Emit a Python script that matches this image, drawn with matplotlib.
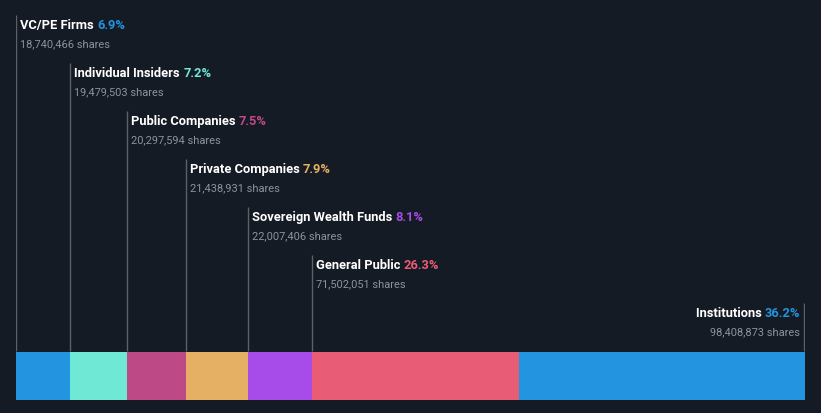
import numpy as np
import matplotlib.pyplot as plt

# ownership data
groups = ["VC/PE Firms", "Individual Insiders", "Public Companies", "Private Companies",
          "Sovereign Wealth Funds", "General Public", "Institutions"]
pcts = ["6.9%", "7.2%", "7.5%", "7.9%", "8.1%", "26.3%", "36.2%"]
shares = [18740466, 19479503, 20297594, 21438931, 22007406, 71502051, 98408873]
colors = ["#2394df", "#6fe8d6", "#bd4a87", "#e5b064", "#a74ce8", "#e85d75", "#2394df"]

bg = "#151b24"
W, H = 821, 414

fig = plt.figure(figsize=(W / 100, H / 100), dpi=100, facecolor=bg)
ax = fig.add_axes([16 / W, 0, 789 / W, 1])
ax.set_facecolor(bg)
ax.axis("off")
total = sum(shares)
ax.set_xlim(0, total)
ax.set_ylim(H, 0)  # y in pixel rows

lefts = np.cumsum([0] + shares[:-1])
ax.barh(376.5, shares, left=lefts, height=48, color=colors, linewidth=0)

fig.canvas.draw()
r = fig.canvas.get_renderer()


def xoff(xdata, dpx):
    # shift a data x by some pixels
    disp = ax.transData.transform((xdata, 0))
    return ax.transData.inverted().transform((disp[0] + dpx, 0))[0]


fs_name = 9.3
fs_sh = 7.9
for i, (g, p, s, c) in enumerate(zip(groups, pcts, shares, colors)):
    top = 16 + 48 * i
    last = i == len(groups) - 1
    xl = total if last else lefts[i]
    xl_line = xoff(xl, -1) if last else xl
    ax.plot([xl_line, xl_line], [top, 352], color="#5b6069", lw=1, solid_capstyle="butt")
    ytxt = top + 9.5
    ysh = top + 28.5
    if not last:
        x0 = xoff(xl, 4)
        t = ax.text(x0, ytxt, g + " ", color="white", fontsize=fs_name, fontweight="bold",
                    family="Roboto", va="center", ha="left")
        bb = t.get_window_extent(r)
        ax.text(ax.transData.inverted().transform((bb.x1, 0))[0], ytxt, p, color=c,
                fontsize=fs_name, fontweight="bold", family="Roboto", va="center", ha="left")
        ax.text(x0, ysh, f"{s:,} shares", color="#8d929b", fontsize=fs_sh,
                family="Roboto", va="center", ha="left")
    else:
        x0 = xoff(xl, -5)
        t = ax.text(x0, ytxt, p, color=c, fontsize=fs_name, fontweight="bold",
                    family="Roboto", va="center", ha="right")
        bb = t.get_window_extent(r)
        ax.text(ax.transData.inverted().transform((bb.x0, 0))[0], ytxt, g + " ",
                color="white", fontsize=fs_name, fontweight="bold", family="Roboto",
                va="center", ha="right")
        ax.text(x0, ysh, f"{s:,} shares", color="#8d929b", fontsize=fs_sh,
                family="Roboto", va="center", ha="right")

fig.savefig("out.png", dpi=100, facecolor=bg)
